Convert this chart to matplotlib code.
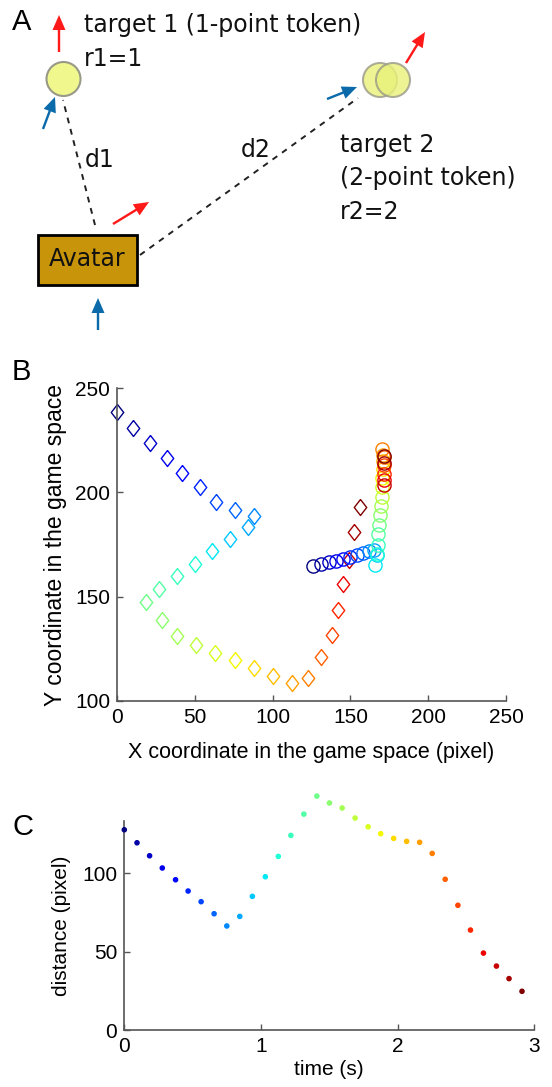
import numpy as np
import matplotlib
matplotlib.use("Agg")
import matplotlib.pyplot as plt
from matplotlib.patches import Circle, Rectangle

plt.rcParams['font.family'] = ['Liberation Sans', 'DejaVu Sans']

# Panel B: avatar path (diamonds) and token path (circles)
avatar_x = [0, 10.5, 21.2, 31.9, 42, 53.1, 63.8, 75.8, 87.8, 84, 72.4, 61, 50.1, 38.3, 27.2, 18.9,
            28.9, 38.6, 50.8, 63.2, 75.6, 87.8, 100, 112.5, 122.7, 131.1, 138.2, 141.8, 145.5, 149.1, 152.5, 156.2]
avatar_y = [238.5, 231, 223.8, 216.6, 209.4, 202.6, 195.4, 191.7, 188.8, 183.4, 177.5, 171.7, 165.8, 159.7, 153.8, 147.4,
            139, 131, 126.8, 123, 119.5, 115.8, 112.1, 108.6, 111, 121.1, 131.5, 143.8, 156.1, 167.7, 180.8, 193.1]
token_x = [126, 131, 136, 141, 145, 150, 154, 158, 162, 165, 167, 165.5, 167, 167.5, 168, 168.5,
           169, 169.5, 170, 170.5, 170.5, 171, 171, 171, 170.5, 171.5, 171.5, 171.5, 171.5, 171.5, 171.5, 171.5]
token_y = [164.5, 165.5, 166.5, 167.3, 168, 169, 170, 171, 172, 172.5, 170, 165, 170.5, 175, 180, 184.5,
           189, 193.5, 198, 202.5, 207, 211, 215, 218, 221, 217, 213, 209, 206, 203.5, 214, 217.5]

# Panel C: distance over time
time_s = [0, 0.093, 0.185, 0.278, 0.375, 0.467, 0.562, 0.657, 0.75, 0.845, 0.937, 1.032, 1.127, 1.219, 1.314, 1.409,
          1.501, 1.594, 1.689, 1.784, 1.876, 1.971, 2.066, 2.161, 2.253, 2.348, 2.441, 2.533, 2.628, 2.723, 2.815, 2.91]
distance = [127.8, 119.5, 111.2, 103.4, 95.9, 88.7, 81.9, 74.2, 66.4, 72.5, 85.3, 97.8, 110.8, 124.2, 137.8, 149.3,
            144.9, 141.7, 135.3, 129.7, 125.3, 122.3, 120.4, 119.8, 112.7, 96.2, 79.6, 63.8, 49.1, 40.8, 32.8, 24.7]

W, H = 552, 1087
fig = plt.figure(figsize=(W / 100, H / 100), dpi=100)
colors = plt.cm.jet(np.linspace(0, 1, len(avatar_x)))
spine_col = '#555555'

# ---------------- Panel A (schematic, drawn in pixel space) ----------------
axa = fig.add_axes([0, 1 - 330 / H, 1, 330 / H])
axa.set_xlim(0, W)
axa.set_ylim(330, 0)
axa.axis('off')

red = '#ff1a1a'
blue = '#0a6aaa'
tfont = dict(family='DejaVu Sans', fontsize=17, color='#111111')

def arrow(x0, y0, x1, y1, c):
    axa.arrow(x0, y0, x1 - x0, y1 - y0, width=2.4, head_width=13, head_length=15,
              length_includes_head=True, color=c, lw=0)

# dashed distance lines
axa.plot([95, 63], [225, 100], ls=(0, (3, 3)), color='#222222', lw=1.4)
axa.plot([140, 358], [255, 98], ls=(0, (3, 3)), color='#222222', lw=1.4)

axa.add_patch(Circle((63.5, 79), 17, fc='#f0f78c', ec='#999988', lw=1.5))
axa.add_patch(Circle((380, 80), 17, fc='#eaf27a', ec='#999988', lw=1.5, alpha=0.8))
axa.add_patch(Circle((393, 80), 17, fc='#eaf27a', ec='#999988', lw=1.5, alpha=0.8))

axa.add_patch(Rectangle((38, 235), 98.5, 50, fc='#c8940a', ec='black', lw=2))
axa.text(87, 259, 'Avatar', ha='center', va='center', **tfont)

arrow(59, 52, 59, 15, red)
arrow(43, 129, 55, 97, blue)
arrow(406, 63, 425, 32, red)
arrow(327, 99, 357, 87, blue)
arrow(113, 224, 149, 202, red)
arrow(98, 330, 98, 298, blue)

axa.text(84, 25, 'target 1 (1-point token)', ha='left', va='center', **tfont)
axa.text(84, 59, 'r1=1', ha='left', va='center', **tfont)
axa.text(340, 145, 'target 2', ha='left', va='center', **tfont)
axa.text(340, 178, '(2-point token)', ha='left', va='center', **tfont)
axa.text(340, 212, 'r2=2', ha='left', va='center', **tfont)
axa.text(85, 160, 'd1', ha='left', va='center', **tfont)
axa.text(241, 150, 'd2', ha='left', va='center', **tfont)

fig.text(12 / W, 1 - 22 / H, 'A', fontsize=21, va='center', ha='left')
fig.text(12 / W, 1 - 372 / H, 'B', fontsize=21, va='center', ha='left')
fig.text(12 / W, 1 - 827 / H, 'C', fontsize=21, va='center', ha='left')

def style(ax):
    for s in ['top', 'right']:
        ax.spines[s].set_visible(False)
    for s in ['left', 'bottom']:
        ax.spines[s].set_color(spine_col)
        ax.spines[s].set_linewidth(1.2)
    ax.tick_params(direction='in', length=4, width=1, color=spine_col, labelsize=15, pad=5)

# ---------------- Panel B ----------------
axb = fig.add_axes([117 / W, 1 - 701 / H, 389 / W, 313 / H])
diamond = [(0, 1), (0.78, 0), (0, -1), (-0.78, 0), (0, 1)]
for i in range(len(avatar_x)):
    axb.plot(avatar_x[i], avatar_y[i], marker=diamond, ms=11.5, mfc='none', mec=colors[i], mew=1.0,
             clip_on=False)
for i in range(len(token_x)):
    axb.plot(token_x[i], token_y[i], marker='o', ms=9.5, mfc='none', mec=colors[i], mew=1.0,
             clip_on=False)
axb.set_xlim(0, 250)
axb.set_ylim(100, 250)
axb.set_xticks([0, 50, 100, 150, 200, 250])
axb.set_yticks([100, 150, 200, 250])
axb.set_xlabel('X coordinate in the game space (pixel)', fontsize=15.5, labelpad=11)
axb.set_ylabel('Y coordinate in the game space', fontsize=16.5, labelpad=6)
style(axb)

# ---------------- Panel C ----------------
axc = fig.add_axes([124.3 / W, 1 - 1030 / H, 410 / W, 209 / H])
axc.scatter(time_s, distance, c=colors, s=9, clip_on=False, zorder=3)
axc.set_xlim(0, 3)
axc.set_ylim(0, 133.4)
axc.set_xticks([0, 1, 2, 3])
axc.set_yticks([0, 50, 100])
axc.set_xlabel('time (s)', fontsize=15, labelpad=3)
axc.set_ylabel('distance (pixel)', fontsize=15, labelpad=8)
style(axc)

fig.savefig('out.png', dpi=100)
